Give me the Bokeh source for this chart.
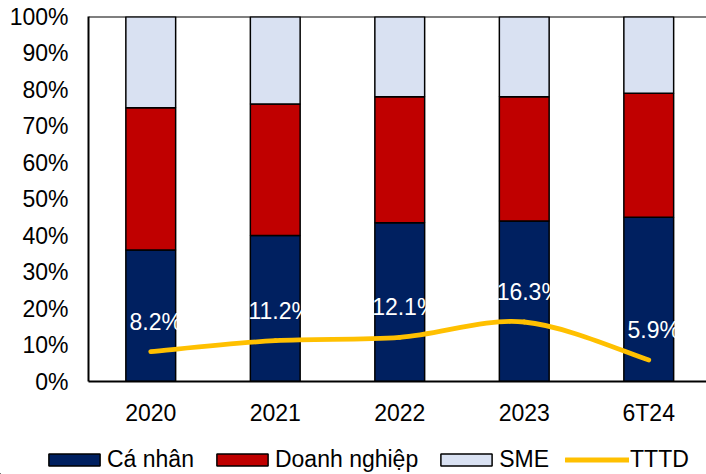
import numpy as np
from bokeh.plotting import figure
from bokeh.layouts import column
from bokeh.models import (ColumnDataSource, Legend, LegendItem, FixedTicker,
                          Range1d, Span, BoxAnnotation)
from bokeh.embed import file_html
from bokeh.resources import INLINE
from bokeh.core.properties import value

# ---- data ----
categories = ["2020", "2021", "2022", "2023", "6T24"]
ca_nhan = [36, 40, 43.5, 44, 45]
doanh_nghiep = [39, 36, 34.5, 34, 34]
sme = [25, 24, 22, 22, 21]
tttd = [8.2, 11.2, 12.1, 16.3, 5.9]
tttd_labels = ["8.2%", "11.2%", "12.1%", "16.3%", "5.9%"]
y_ticks = [0, 10, 20, 30, 40, 50, 60, 70, 80, 90, 100]
y_tick_labels = ["0%", "10%", "20%", "30%", "40%", "50%", "60%", "70%", "80%", "90%", "100%"]
series_names = ["Cá nhân", "Doanh nghiệp", "SME", "TTTD"]

FONT = "Liberation Sans"
FS = "23px"
colors = ["#002060", "#C00000", "#D9E1F2"]
line_color = "#FFC000"

x = list(range(len(categories)))
src = ColumnDataSource(dict(x=x, ca_nhan=ca_nhan, doanh_nghiep=doanh_nghiep, sme=sme, tttd=tttd))

W, H_MAIN, H_LEG = 706, 446, 28
LEFT, RIGHT, TOP, BOTTOM = 88, 0, 16, 65
frame_w = W - LEFT - RIGHT
step_px = 124.5
p = figure(width=W, height=H_MAIN, output_backend="svg", toolbar_location=None,
           x_range=Range1d(-0.5, -0.5 + frame_w / step_px), y_range=Range1d(0, 100),
           min_border_left=LEFT, min_border_right=RIGHT, min_border_top=TOP,
           min_border_bottom=BOTTOM)
p.frame_align = False
p.outline_line_color = None
p.xgrid.visible = False
p.ygrid.visible = False
p.background_fill_color = "white"
p.border_fill_color = "white"

bars = p.vbar_stack(["ca_nhan", "doanh_nghiep", "sme"], x="x", width=0.4,
                    fill_color=colors, line_color="black", line_width=1.5, source=src)

# smoothed line (Catmull-Rom style bezier through the data points)
xs = np.array(x, dtype=float)
ys = np.array(tttd, dtype=float)
n = len(xs)
bx0, by0, bx1, by1, cx0, cy0, cx1, cy1 = [], [], [], [], [], [], [], []
for i in range(n - 1):
    pm = i - 1 if i > 0 else i
    pp = i + 2 if i + 2 < n else i + 1
    bx0.append(xs[i]); by0.append(ys[i])
    bx1.append(xs[i + 1]); by1.append(ys[i + 1])
    cx0.append(xs[i] + (xs[i + 1] - xs[pm]) / 6)
    cy0.append(ys[i] + (ys[i + 1] - ys[pm]) / 6)
    cx1.append(xs[i + 1] - (xs[pp] - xs[i]) / 6)
    cy1.append(ys[i + 1] - (ys[pp] - ys[i]) / 6)
p.bezier(x0=bx0, y0=by0, x1=bx1, y1=by1, cx0=cx0, cy0=cy0, cx1=cx1, cy1=cy1,
         line_color=line_color, line_width=4.8, line_cap="round")

p.text(x=x, y=tttd, text=tttd_labels, text_color="white", text_font=value(FONT),
       text_font_size=FS, text_align="center", text_baseline="middle",
       x_offset=5, y_offset=-30)

p.add_layout(Span(location=100, dimension="width", line_color="black", line_width=2))

for ax in (p.xaxis[0], p.yaxis[0]):
    ax.axis_line_color = "black"
    ax.axis_line_width = 2
    ax.major_tick_line_color = None
    ax.minor_tick_line_color = None
    ax.major_tick_out = 0
    ax.major_tick_in = 0
    ax.minor_tick_out = 0
    ax.minor_tick_in = 0
    ax.major_label_text_font = FONT
    ax.major_label_text_font_size = FS
    ax.major_label_text_color = "black"

p.xaxis.ticker = FixedTicker(ticks=x)
p.xaxis.major_label_overrides = {i: c for i, c in zip(x, categories)}
p.xaxis.major_label_standoff = 18
p.yaxis.ticker = FixedTicker(ticks=y_ticks)
p.yaxis.major_label_overrides = {t: l for t, l in zip(y_ticks, y_tick_labels)}
p.yaxis.major_label_standoff = 20

# ---- legend strip: own figure; its swatch renderers reuse the series data,
#      a white cover hides them so only the legend shows ----
lg = figure(width=W, height=H_LEG, output_backend="svg", toolbar_location=None,
            x_axis_type=None, y_axis_type=None, x_range=Range1d(1000, 1001),
            y_range=Range1d(1000, 1001), min_border=0)
lg.frame_align = False
lg.outline_line_color = None
lg.background_fill_color = "white"
lg.border_fill_color = "white"
sw = [lg.vbar(x="x", top=col, width=0.4, fill_color=c, line_color="black", line_width=1.5,
              source=src) for col, c in zip(["ca_nhan", "doanh_nghiep", "sme"], colors)]
sw.append(lg.line(x="x", y="tttd", line_color=line_color, line_width=4.8, line_cap="round",
                  source=src))
lg.add_layout(BoxAnnotation(fill_color="white", fill_alpha=1.0, line_color=None, level="guide"))
items = [LegendItem(label=series_names[i], renderers=[sw[i]]) for i in range(4)]
legend = Legend(items=items, orientation="horizontal", location=(42, 1),
                label_text_font=FONT, label_text_font_size=FS, label_text_color="black",
                glyph_width=64, glyph_height=15, label_standoff=1, spacing=16,
                padding=0, margin=0, border_line_color=None, background_fill_alpha=0,
                level="overlay")
lg.add_layout(legend)

layout = column(p, lg, spacing=0)
open("out.html", "w").write(file_html(layout, INLINE))
